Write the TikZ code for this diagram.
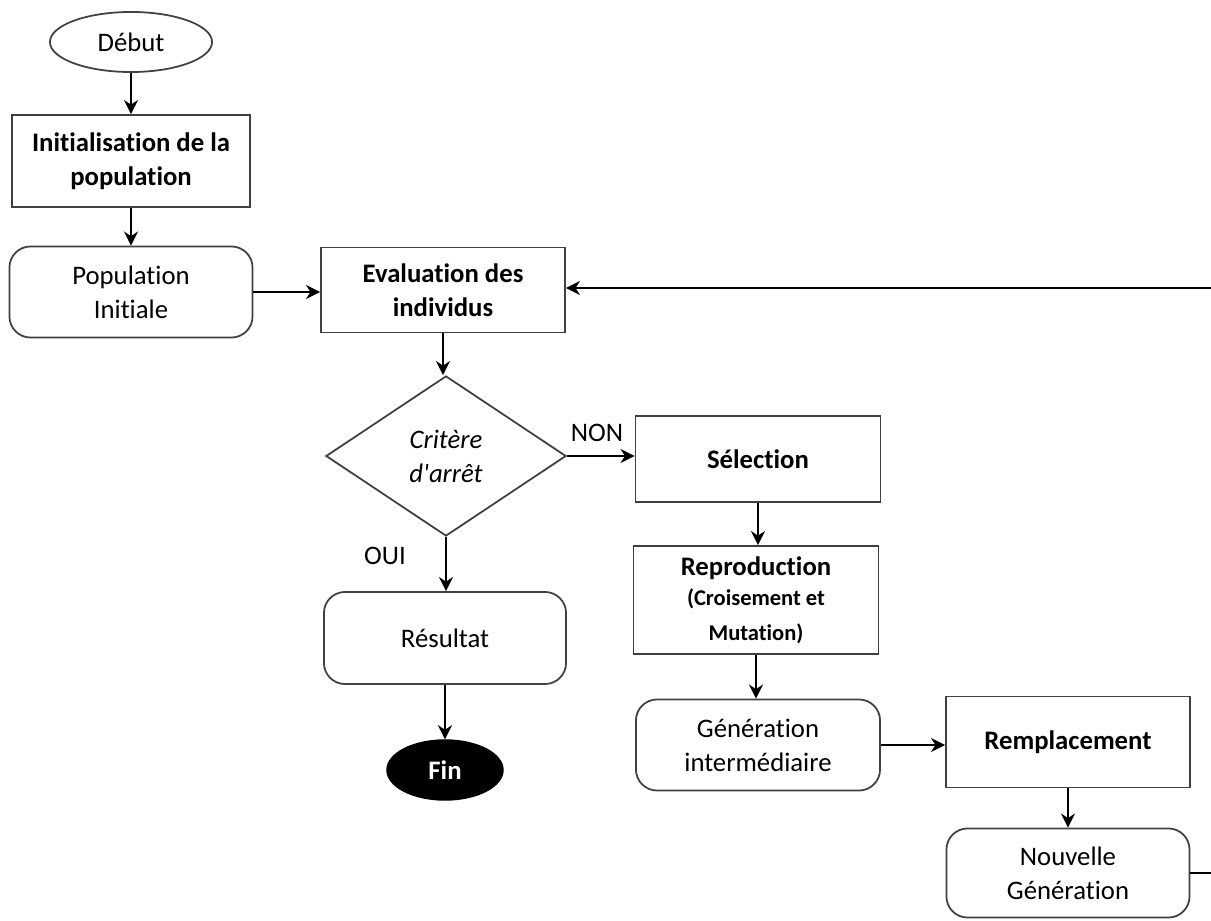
\documentclass[tikz,border=0pt]{standalone}
\usepackage{fontspec}
\setmainfont{Carlito}[Ligatures={TeXOff,NoCommon}]
\usetikzlibrary{shapes.geometric,arrows.meta}
\begin{document}
\begin{tikzpicture}[x=0.01cm,y=-0.01cm,
  base/.style={draw=black!75,line width=0.5pt,align=center,inner sep=0pt,font=\fontsize{7.6}{9.7}\selectfont},
  boxn/.style={base,rectangle},
  rbox/.style={base,rectangle,rounded corners=6pt},
  lbl/.style={font=\fontsize{7.6}{9}\selectfont,inner sep=0pt},
  arr/.style={-{Stealth[length=4pt,width=4pt]},line width=0.6pt},
  ln/.style={line width=0.6pt}]
\useasboundingbox (0,0) rectangle (1211,921);
\node[base,ellipse,minimum width=1.62cm,minimum height=0.6cm] (debut) at (131,42) {Début};
\node[boxn,minimum width=2.38cm,minimum height=0.92cm] (init) at (131,161) {\bfseries Initialisation de la\\\bfseries population};
\node[rbox,minimum width=2.43cm,minimum height=0.91cm] (popi) at (131,292) {Population\\Initiale};
\node[boxn,minimum width=2.44cm,minimum height=0.85cm] (eval) at (443,290) {\bfseries Evaluation des\\\bfseries individus};
\node[base,diamond,minimum width=2.4cm,minimum height=1.6cm,aspect=1.5] (crit) at (446,456) {\itshape Critère\\\itshape d'arrêt};
\node[boxn,minimum width=2.45cm,minimum height=0.86cm] (sel) at (758,459) {\bfseries Sélection};
\node[rbox,minimum width=2.42cm,minimum height=0.92cm] (res) at (445,638) {Résultat};
\node[ellipse,fill=black,draw=black,minimum width=1.16cm,minimum height=0.6cm,inner sep=0pt,text=white,font=\fontsize{7.6}{9.7}\selectfont\bfseries] (fin) at (445,770) {Fin};
\node[boxn,minimum width=2.45cm,minimum height=1.08cm] (repro) at (756,600) {\raisebox{-2pt}{\bfseries Reproduction}\\[1pt]{\fontsize{6.4}{9}\selectfont\bfseries (Croisement et}\\{\fontsize{6.4}{9}\selectfont\bfseries Mutation)}};
\node[rbox,minimum width=2.44cm,minimum height=0.91cm] (genint) at (758,745) {Génération\\intermédiaire};
\node[boxn,minimum width=2.44cm,minimum height=0.91cm] (remp) at (1068,742) {\bfseries Remplacement};
\node[rbox,minimum width=2.43cm,minimum height=0.89cm] (ng) at (1068,873) {Nouvelle\\Génération};
\node[lbl] (non) at (597,433) {NON};
\node[lbl] (oui) at (385,556) {OUI};
\coordinate (e1) at (1211,873);
\coordinate (e2) at (1211,288);
\draw[arr] (debut.south) -- (init.north);
\draw[arr] (init.south) -- (popi.north);
\draw[arr] (popi.east) -- (eval.west |- popi.east);
\draw[arr] (eval.south) -- (eval.south |- crit.north);
\draw[arr] (crit.east) -- (sel.west |- crit.east);
\draw[arr] (crit.south) -- (crit.south |- res.north);
\draw[arr] (res.south) -- (fin.north);
\draw[arr] (sel.south) -- (sel.south |- repro.north);
\draw[arr] (repro.south) -- (repro.south |- genint.north);
\draw[arr] (genint.east) -- (remp.west |- genint.east);
\draw[arr] (remp.south) -- (ng.north);
\draw[ln] (ng.east) -- (e1);
\draw[arr] (e2) -- (eval.east |- e2);
\end{tikzpicture}
\end{document}
